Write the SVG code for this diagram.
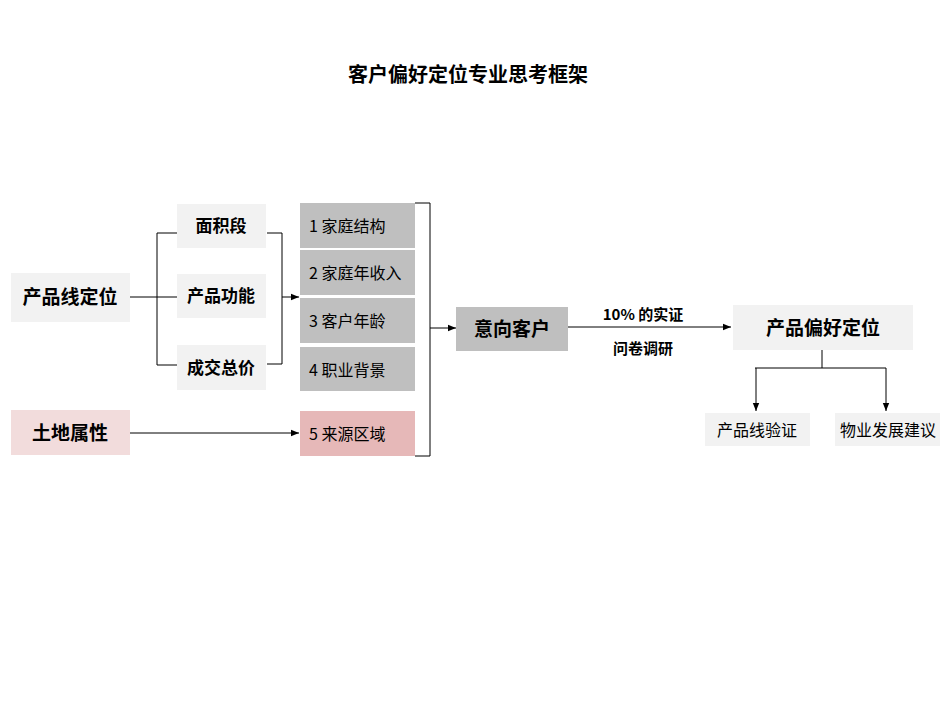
<svg xmlns="http://www.w3.org/2000/svg" width="950" height="713" viewBox="0 0 950 713">
<style>
text{font-family:"Noto Sans CJK SC","Liberation Sans",sans-serif;fill:#000}
.b{font-weight:bold;font-size:17px}
.n{font-size:16px}
.l{fill:#f2f2f2}.g{fill:#bfbfbf}
.c{fill:none;stroke:#000;stroke-width:1}
</style>
<defs><marker id="a" viewBox="0 0 10 10" refX="10" refY="5" markerWidth="8" markerHeight="8" orient="auto" markerUnits="userSpaceOnUse"><path d="M0,1 L10,5 L0,9z" fill="#000"/></marker></defs>
<rect width="950" height="713" fill="#fff"/>
<text x="468" y="82" text-anchor="middle" style="font-weight:bold;font-size:20px">客户偏好定位专业思考框架</text>
<g id="n1"><rect class="l" x="11" y="273" width="119" height="49"/><text class="b" x="70" y="304" text-anchor="middle" style="font-size:19px">产品线定位</text></g>
<g id="n2"><rect x="11" y="410" width="119" height="45" fill="#f2dcdc"/><text class="b" x="70" y="440" text-anchor="middle" style="font-size:19px">土地属性</text></g>
<g id="n3"><rect class="l" x="177" y="204" width="89" height="44"/><text class="b" x="221" y="232" text-anchor="middle">面积段</text></g>
<g id="n4"><rect class="l" x="177" y="274" width="89" height="44"/><text class="b" x="221" y="302" text-anchor="middle">产品功能</text></g>
<g id="n5"><rect class="l" x="177" y="345" width="89" height="45"/><text class="b" x="221" y="374" text-anchor="middle">成交总价</text></g>
<g id="n6"><rect class="g" x="300" y="203" width="115" height="45"/><text class="n" x="309" y="232">1 家庭结构</text></g>
<g id="n7"><rect class="g" x="300" y="250" width="115" height="45"/><text class="n" x="309" y="279">2 家庭年收入</text></g>
<g id="n8"><rect class="g" x="300" y="298" width="115" height="45"/><text class="n" x="309" y="327">3 客户年龄</text></g>
<g id="n9"><rect class="g" x="300" y="347" width="115" height="44"/><text class="n" x="309" y="376">4 职业背景</text></g>
<g id="n10"><rect x="300" y="411" width="115" height="45" fill="#e6b8b8"/><text class="n" x="309" y="440">5 来源区域</text></g>
<g id="n11"><rect class="g" x="456" y="307" width="112" height="44"/><text class="b" x="512" y="336" text-anchor="middle" style="font-size:19px">意向客户</text></g>
<g id="n12"><rect class="l" x="733" y="305" width="180" height="45"/><text class="b" x="823" y="335" text-anchor="middle" style="font-size:19px">产品偏好定位</text></g>
<g id="n13"><rect class="l" x="705" y="413" width="105" height="33"/><text class="n" x="757" y="436" text-anchor="middle">产品线验证</text></g>
<g id="n14"><rect class="l" x="835" y="413" width="105" height="33"/><text class="n" x="888" y="436" text-anchor="middle">物业发展建议</text></g>
<g id="connectors">
<path class="c" d="M130,297H177M177,233H157V365H177"/>
<path class="c" d="M267,233H282V364H267M282,297H299" marker-end="url(#a)"/>
<path class="c" d="M130,433H299" marker-end="url(#a)"/>
<path class="c" d="M415,203H430V456H415M430,328H456" marker-end="url(#a)"/>
<path class="c" d="M568,327H731" marker-end="url(#a)"/>
<path class="c" d="M822,350V368M755,368H886"/>
<path class="c" d="M756,368V411" marker-end="url(#a)"/>
<path class="c" d="M886,368V411" marker-end="url(#a)"/>
<text class="b" x="643" y="320" text-anchor="middle" style="font-size:15px">10% 的实证</text>
<text class="b" x="643" y="354" text-anchor="middle" style="font-size:15px">问卷调研</text>
</g>
</svg>
